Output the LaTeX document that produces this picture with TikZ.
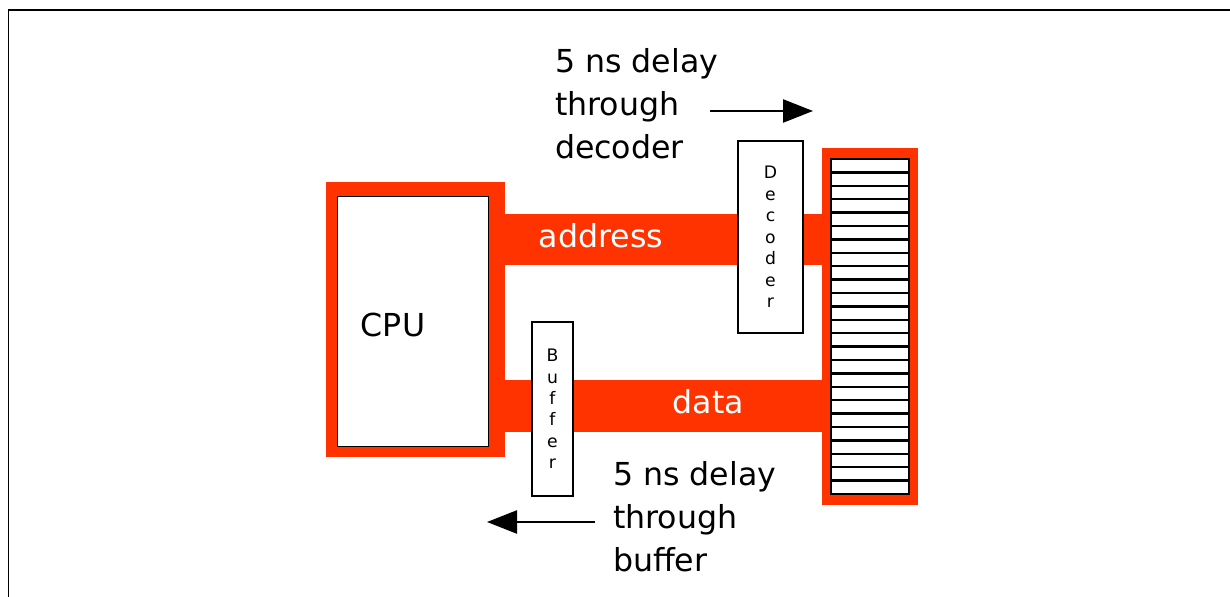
\documentclass[tikz,border=0pt]{standalone}
\usepackage{fontspec}
\setmainfont{DejaVu Sans}
\usetikzlibrary{arrows.meta,positioning}
\definecolor{busred}{HTML}{FF3300}

\begin{document}
\begin{tikzpicture}[x=0.02cm, y=-0.02cm,
    every node/.style={inner sep=0pt, outer sep=0pt},
    bigtext/.style={font=\fontsize{18}{24.5}\selectfont},
    tinytext/.style={font=\fontsize{9.8}{12.2}\selectfont, align=center},
    unitbox/.style={draw, fill=white, line width=1.2pt},
    delayarrow/.style={-{Triangle[length=0.6cm, width=0.46cm]}, line width=1.4pt}]
  \useasboundingbox (0,0) rectangle (1230,597);
  \draw[line width=1.1pt] (8.5,597) -- (8.5,10) -- (1230,10);
  \fill[busred] (505,214) rectangle (826,265);
  \fill[busred] (505,380) rectangle (826,432);
  \node[fill=busred, minimum width=3.58cm, minimum height=5.5cm] (cpuframe) at (415.5,319.5) {};
  \node[draw, fill=white, line width=0.5pt, minimum width=3.02cm, minimum height=5cm] (cpu) at (412.5,321) {};
  \node[bigtext] (cpulabel) at (393,325) {CPU};
  \node[fill=busred, minimum width=1.92cm, minimum height=7.14cm] (mem) at (870,326.5) {};
  \foreach \i in {0,...,24} \draw[fill=white, line width=1.3pt] (831,159+13.4*\i) rectangle (909,172.4+13.4*\i);
  \node[unitbox, tinytext, minimum width=1.3cm, minimum height=3.84cm] (decoder) at (770.5,237) {D\\e\\c\\o\\d\\e\\r};
  \node[unitbox, tinytext, minimum width=0.82cm, minimum height=3.48cm] (buffer) at (552.5,409) {B\\u\\f\\f\\e\\r};
  \node[bigtext, text=white] (addrlabel) at (601,236) {address};
  \node[bigtext, text=white] (datalabel) at (708.5,401.5) {data};
  \node[bigtext, align=left, anchor=west] (decnote) at (555,104) {5 ns delay\\through\\decoder};
  \node[bigtext, align=left, anchor=west] (bufnote) at (613,517) {5 ns delay\\through\\buffer};
  \coordinate (decfrom) at (710,111);
  \coordinate (decto) at (813,111);
  \coordinate (buffrom) at (595,522);
  \coordinate (bufto) at (487,522);
  \draw[delayarrow] (decfrom) -- (decto);
  \draw[delayarrow] (buffrom) -- (bufto);
\end{tikzpicture}
\end{document}
